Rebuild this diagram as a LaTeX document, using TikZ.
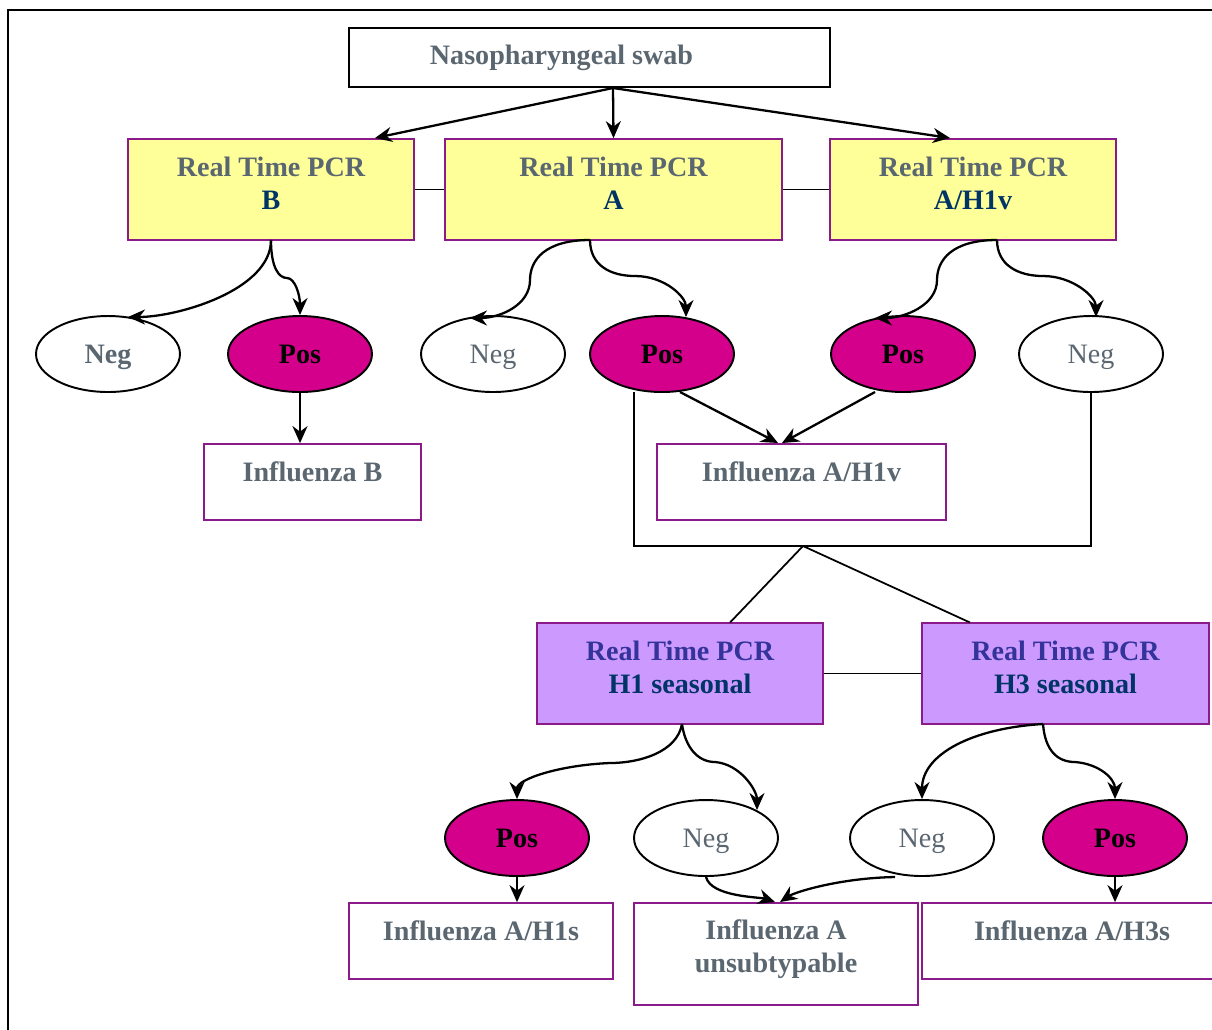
\documentclass[tikz,border=0pt]{standalone}
\usepackage{fontspec}
\setmainfont{Liberation Serif}
\usetikzlibrary{arrows.meta,shapes.geometric}
\definecolor{txtgray}{HTML}{5A6670}
\definecolor{navy}{HTML}{003366}
\definecolor{indigo}{HTML}{333399}
\definecolor{pcryellow}{HTML}{FFFF99}
\definecolor{sublilac}{HTML}{CC99FF}
\definecolor{boxpurple}{HTML}{8B1A8B}
\definecolor{posmagenta}{HTML}{D4008C}
\tikzset{
  base/.style={font=\fontsize{16}{19}\selectfont\bfseries,align=center,inner sep=0pt},
  swabbox/.style={base,draw,line width=1pt,text=txtgray,minimum width=9.62cm,minimum height=1.18cm},
  pcrbox/.style={base,draw=boxpurple,line width=1pt,fill=pcryellow,text=txtgray,minimum height=2.02cm,text depth=0.26cm},
  subbox/.style={base,draw=boxpurple,line width=1pt,fill=sublilac,text=indigo,minimum height=2.02cm,text depth=0.26cm},
  resbox/.style={base,draw=boxpurple,line width=1pt,text=txtgray,minimum height=1.52cm,text depth=0.4cm},
  posnode/.style={base,ellipse,draw,line width=1.1pt,fill=posmagenta,minimum width=2.88cm,minimum height=1.52cm,text depth=0pt},
  negnode/.style={base,ellipse,draw,line width=1.1pt,text=txtgray,minimum width=2.88cm,minimum height=1.52cm,text depth=0pt},
  neglight/.style={negnode,font=\fontsize{16}{19}\selectfont\mdseries},
  link/.style={->,line width=1.3pt},
}
\begin{document}
\begin{tikzpicture}[x=0.02cm,y=0.02cm,>={Stealth[length=3.4mm,width=3mm]}]
\path[use as bounding box] (0,0) rectangle (1212,-1029);
\begin{scope}
\clip (0,0) rectangle (1212,-1029);
\draw[line width=1pt] (8,-1040) -- (8,-10) -- (1220,-10);
\node[swabbox] (swab) at (589.5,-57.5) {Nasopharyngeal swab\hspace*{1.12cm}};
\node[pcrbox,minimum width=5.72cm] (pcrB) at (271,-189.5) {Real Time PCR\\\textcolor{navy}{B}};
\node[pcrbox,minimum width=6.74cm] (pcrA) at (613.5,-189.5) {Real Time PCR\\\textcolor{navy}{A}};
\node[pcrbox,minimum width=5.72cm] (pcrV) at (973,-189.5) {Real Time PCR\\\textcolor{navy}{A/H1v}};
\draw[line width=1pt] (pcrB) -- (pcrA);
\draw[line width=1pt] (pcrA) -- (pcrV);
\coordinate (fork) at (613,-88);
\draw[link] (fork) -- (375,-138);
\draw[link] (fork) -- (pcrA.north);
\draw[link] (fork) -- (950,-138);
\node[negnode] (neg1) at (108,-354) {Neg};
\node[posnode] (pos1) at (300,-354) {Pos};
\node[neglight] (neg2) at (493,-354) {Neg};
\node[posnode] (pos2) at (662,-354) {Pos};
\node[posnode] (pos3) at (903,-354) {Pos};
\node[neglight] (neg3) at (1091,-354) {Neg};
\draw[link] (271,-240) .. controls +(0,-50) and +(50,0) .. (128,-317);
\draw[link] (271,-240) .. controls +(0,-28) and +(-8,0) .. (287,-278) .. controls +(8,0) and +(0,20) .. (pos1.north);
\draw[link] (590,-240) .. controls +(-45,0) and +(0,20) .. (530,-280) .. controls +(0,-25) and +(30,0) .. (470,-318);
\draw[link] (590,-240) .. controls +(0,-25) and +(-25,0) .. (635,-276) .. controls +(30,0) and +(0,20) .. (686,-317);
\draw[link] (997,-240) .. controls +(-45,0) and +(0,20) .. (937,-280) .. controls +(0,-25) and +(30,0) .. (875,-318);
\draw[link] (997,-240) .. controls +(0,-25) and +(-25,0) .. (1043,-276) .. controls +(30,0) and +(0,20) .. (1096,-317);
\node[resbox,minimum width=4.34cm] (infB) at (312.5,-482) {Influenza B};
\node[resbox,minimum width=5.78cm] (infV) at (801.5,-482) {Influenza A/H1v};
\draw[link] (pos1) -- (pos1 |- infB.north);
\draw[link] (680,-392) -- (778,-443);
\draw[link] (875,-392) -- (782,-443);
\coordinate (join) at (803,-546);
\draw[line width=1pt] (634,-392) -- (634,-546) -- (1091,-546) -- (neg3.south);
\node[subbox,minimum width=5.72cm] (pcrH1) at (680,-673.5) {Real Time PCR\\\textcolor{navy}{H1 seasonal}};
\node[subbox,minimum width=5.74cm] (pcrH3) at (1065.5,-673.5) {Real Time PCR\\\textcolor{navy}{H3 seasonal}};
\draw[line width=1pt] (join) -- (730,-622.5);
\draw[line width=1pt] (join) -- (970,-622.5);
\draw[line width=1pt] (pcrH1) -- (pcrH3);
\node[posnode] (pos4) at (517,-838) {Pos};
\node[neglight] (neg4) at (706,-838) {Neg};
\node[neglight] (neg5) at (922,-838) {Neg};
\node[posnode] (pos5) at (1115,-838) {Pos};
\draw[link] (682,-724) .. controls +(-5,-28) and +(30,0) .. (610,-763) .. controls +(-50,-2) and +(0,20) .. (pos4.north);
\draw[link] (682,-724) .. controls +(3,-22) and +(-18,0) .. (715,-762) .. controls +(25,-2) and +(0,20) .. (757,-810);
\draw[link] (1043,-724) .. controls +(-70,-4) and +(0,45) .. (neg5.north);
\draw[link] (1043,-724) .. controls +(2,-26) and +(-18,0) .. (1075,-762) .. controls +(25,-2) and +(0,20) .. (pos5.north);
\node[resbox,minimum width=5.28cm] (infH1s) at (481,-941) {Influenza A/H1s};
\node[resbox,minimum width=5.68cm,minimum height=2.04cm,text depth=0.32cm] (infU) at (776,-954) {Influenza A\\unsubtypable};
\node[resbox,minimum width=6cm] (infH3s) at (1072,-941) {Influenza A/H3s};
\draw[link] (pos4) -- (pos4 |- infH1s.north);
\draw[link] (pos5) -- (pos5 |- infH3s.north);
\draw[link] (neg4.south) .. controls +(5,-20) and +(-15,5) .. (775,-902);
\draw[link] (895,-877) .. controls +(-55,-1) and +(15,10) .. (780,-902);
\end{scope}
\end{tikzpicture}
\end{document}
